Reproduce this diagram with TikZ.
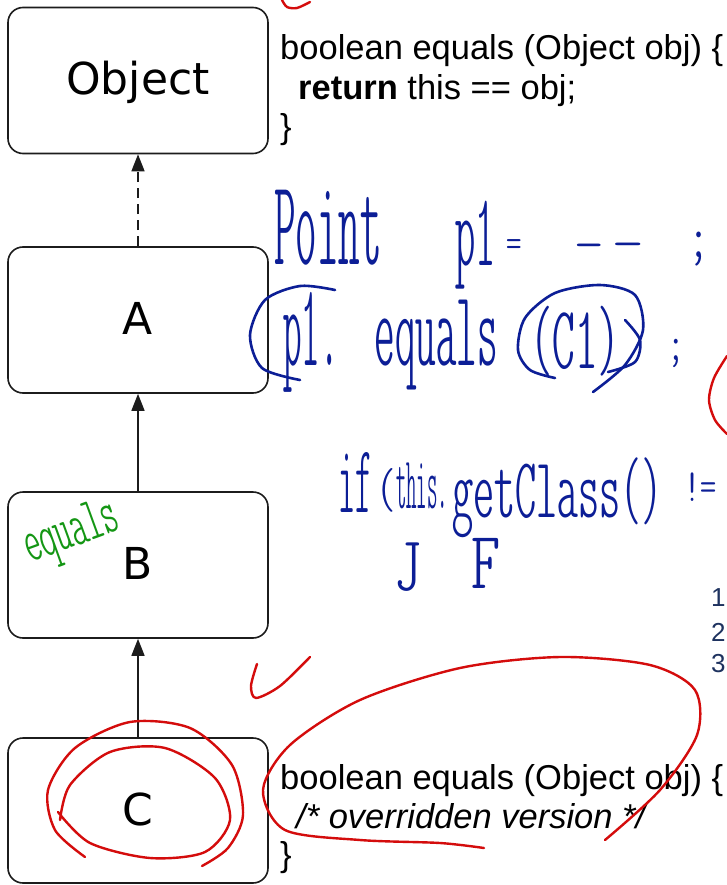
\documentclass[tikz,border=0pt]{standalone}
\usepackage{fontspec}
\setmainfont{Liberation Sans}
\newfontfamily\boxfont{DejaVu Sans}
\newfontfamily\handfont{lmmonoltcond10-regular.otf}
\usetikzlibrary{arrows.meta}
\definecolor{boxline}{RGB}{28,28,28}
\definecolor{handblue}{RGB}{12,30,150}
\definecolor{handred}{RGB}{212,12,12}
\definecolor{handgreen}{RGB}{20,150,20}
\definecolor{numnavy}{RGB}{30,50,95}
\newcommand\hsz[1]{\handfont\fontsize{#1}{#1}\selectfont}
\tikzset{
  classbox/.style={draw=boxline, line width=1.6pt, rounded corners=15pt,
    minimum width=260pt, minimum height=146pt, inner sep=0pt,
    font=\boxfont\fontsize{44}{44}\selectfont, text height=29pt, text depth=0pt},
  inherit/.style={draw=boxline, line width=1.5pt, -{Triangle[length=17pt,width=13pt]}},
  codeline/.style={anchor=base west, inner sep=0pt, font=\fontsize{34.5}{40}\selectfont},
  hand/.style={inner sep=0pt, text=handblue, font=\handfont},
  inkblue/.style={draw=handblue, line width=2.6pt, line cap=round, line join=round},
  inkred/.style={draw=handred, line width=2.4pt, line cap=round, line join=round},
  numtext/.style={anchor=west, inner sep=0pt, text=numnavy, font=\fontsize{26}{26}\selectfont}
}
\begin{document}
\begin{tikzpicture}[x=1pt,y=-1pt]
\useasboundingbox (0,0) rectangle (727,885);
\clip (0,0) rectangle (727,885);
\fill[white] (0,0) rectangle (727,885);

% class boxes
\node[classbox] (obj) at (138,80.5) {Object};
\node[classbox] (A) at (138,320) {A};
\node[classbox] (B) at (138,565) {B};
\node[classbox, minimum height=145pt] (C) at (138,810.5) {C};

% inheritance arrows
\draw[inherit, dash pattern=on 10pt off 6pt] (A.north) -- (obj.south);
\draw[inherit] (B.north) -- (A.south);
\draw[inherit] (C.north) -- (B.south);

% code texts
\node[codeline] (t1) at (280,60) {boolean equals (Object obj) \{};
\node[codeline] (t2) at (298,100) {\textbf{return} this == obj;};
\node[codeline] (t3) at (280,139) {\}};
\node[codeline] (u1) at (280,789) {boolean equals (Object obj) \{};
\node[codeline] (u2) at (296,828) {\itshape /* overridden version */};
\node[codeline] (u3) at (280,866) {\}};

% numbers at right edge
\node[numtext] (n1) at (711,598) {1};
\node[numtext] (n2) at (711,632) {2};
\node[numtext] (n3) at (711,664) {3};

% blue handwriting
\node[hand] (h1) at (328,228) {\resizebox*{107pt}{75pt}{Point}};
\node[hand] (h2) at (475,245) {\resizebox*{40pt}{88pt}{p1}};
\node[hand, anchor=base] (h3) at (514,258) {\hsz{44}=};
\node[hand, anchor=base] (h4) at (589,262) {\hsz{56}\scalebox{1.5}[1]{-}};
\node[hand, anchor=base] (h5) at (628,261) {\hsz{56}\scalebox{1.6}[1]{-}};
\node[hand, anchor=base] (h6) at (699,258) {\hsz{60};};
\node[hand] (h7) at (311,342) {\resizebox*{55pt}{100pt}{p1.}};
\node[hand] (h8) at (436,345) {\resizebox*{123pt}{90pt}{equals}};
\node[hand] (h9) at (575,341) {\resizebox*{90pt}{70pt}{(C1)}};
\node[hand, anchor=base] (h10) at (676,360) {\hsz{50};};
\node[hand] (h11) at (355,482) {\resizebox*{34pt}{60pt}{if}};
\node[hand] (h12) at (386,490) {\hsz{56}(};
\node[hand] (h13) at (422,486) {\resizebox*{52pt}{46pt}{this.}};
\node[hand] (h14) at (557,498) {\resizebox*{210pt}{80pt}{getClass()}};
\node[hand, anchor=base west] (h15) at (684,501) {\hsz{46}!=};
\node[hand, anchor=base] (h16) at (408,590) {\hsz{78}J};
\node[hand, anchor=base] (h17) at (486,588) {\hsz{82}F};

% blue circles
\draw[inkblue] plot[smooth] coordinates {(335,290) (300,286) (265,300) (250,335) (262,368) (300,380)};
\draw[inkblue] plot[smooth] coordinates {(593,392) (625,365) (643,330) (635,295) (600,285) (555,293) (525,318) (518,350) (530,370) (555,378)};
\draw[inkblue] plot[smooth] coordinates {(625,320) (640,340) (635,362) (608,372)};

% green note
\node[inner sep=0pt, text=handgreen, font=\handfont, rotate=20] (g1) at (72,535) {\resizebox*{98pt}{52pt}{equals}};

% red marks
\draw[inkred] plot[smooth] coordinates {(282,0) (287,7) (297,8) (310,2)};
\draw[inkred] plot[smooth] coordinates {(727,356) (714,378) (709,400) (715,420) (727,434)};
\draw[inkred] plot[smooth] coordinates {(257,664) (251,686) (256,698) (280,686) (310,657)};
\draw[inkred] plot[smooth] coordinates {(85,857) (55,830) (48,790) (75,748) (130,722) (190,728) (232,765) (243,815) (228,848) (202,866)};
\draw[inkred] plot[smooth] coordinates {(60,820) (70,785) (110,752) (165,748) (215,778) (230,820) (205,852) (150,858) (90,843) (58,812)};
\draw[inkred] plot[smooth] coordinates {(605,840) (660,790) (697,735) (695,690) (650,665) (560,657) (460,668) (360,700) (290,745) (263,790) (285,830) (360,840) (440,843) (484,848)};
\end{tikzpicture}
\end{document}
